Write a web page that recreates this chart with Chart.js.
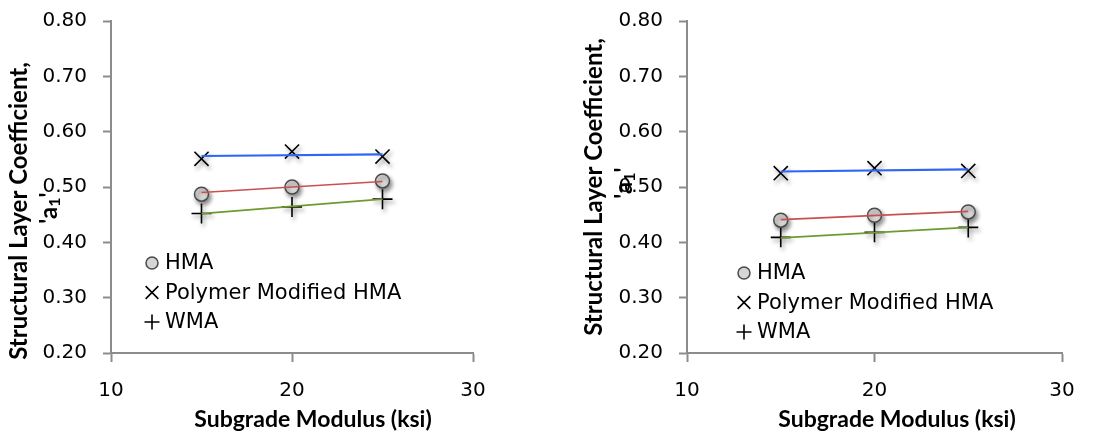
<!DOCTYPE html>
<html>
<head>
<meta charset="utf-8">
<script src="https://cdn.jsdelivr.net/npm/chart.js@4.4.1/dist/chart.umd.min.js"></script>
<style>
  html, body { margin: 0; padding: 0; background: #fff; }
  .panel { position: absolute; top: 0; height: 437px; }
  #panelIzq { left: 0; width: 560px; }
  #panelDer { left: 560px; width: 549px; }
</style>
</head>
<body>
<div class="panel" id="panelIzq"><canvas id="chartIzq" width="560" height="437"></canvas></div>
<div class="panel" id="panelDer"><canvas id="chartDer" width="549" height="437"></canvas></div>
<script>
const modulus = [15, 20, 25];
const seriesNames = ["HMA", "Polymer Modified HMA", "WMA"];

const leftHMA = [0.487, 0.500, 0.511];
const leftPolymer = [0.551, 0.564, 0.555];
const leftWMA = [0.452, 0.464, 0.478];

const rightHMA = [0.440, 0.449, 0.455];
const rightPolymer = [0.525, 0.534, 0.529];
const rightWMA = [0.409, 0.418, 0.427];

// trendline end points (x = 15 and x = 25)
const trendX = [15, 25];
const leftTrendHMA = [0.490, 0.510];
const leftTrendPolymer = [0.556, 0.559];
const leftTrendWMA = [0.452, 0.478];
const rightTrendHMA = [0.441, 0.456];
const rightTrendPolymer = [0.528, 0.532];
const rightTrendWMA = [0.408, 0.427];

const xTickValues = [10, 20, 30];
const yTickValues = [0.20, 0.30, 0.40, 0.50, 0.60, 0.70, 0.80];

const xTitle = "Subgrade Modulus (ksi)";
const yTitle = "Structural Layer Coefficient,";

const gris = "#8c8c8c";
const fuenteTicks = { family: "DejaVu Sans", size: 20 };

function puntos(xs, ys) {
  return xs.map((x, i) => ({ x: x, y: ys[i] }));
}

const estilosMarcador = [
  { pointStyle: "circle", pointRadius: 7, pointBackgroundColor: "#d6d6d6", pointBorderColor: "#4a4a4a", pointBorderWidth: 1.5 },
  { pointStyle: "crossRot", pointRadius: 10, pointBackgroundColor: "#000", pointBorderColor: "#000", pointBorderWidth: 1.6 },
  { pointStyle: "cross", pointRadius: 10, pointBackgroundColor: "#000", pointBorderColor: "#000", pointBorderWidth: 1.6 }
];
const radiosLeyenda = [6, 9, 7.5];
const coloresTendencia = ["#c9504f", "#2f66f5", "#6f9a30"];
const anchosTendencia = [1.6, 2.2, 1.8];

function armarDatasets(series, tendencias) {
  const ds = [];
  tendencias.forEach((t, i) => {
    ds.push({
      type: "line",
      data: puntos(trendX, t),
      borderColor: coloresTendencia[i],
      borderWidth: anchosTendencia[i],
      pointRadius: 0,
      fill: false,
      order: 0
    });
  });
  series.forEach((s, i) => {
    ds.push(Object.assign({
      type: "scatter",
      label: seriesNames[i],
      data: puntos(modulus, s),
      showLine: false,
      sombra: true,
      radioLeyenda: radiosLeyenda[i],
      order: 1
    }, estilosMarcador[i]));
  });
  return ds;
}

const sombraPlugin = {
  id: "sombra",
  beforeDatasetDraw(chart, args) {
    if (!chart.data.datasets[args.index].sombra) return;
    const ctx = chart.ctx;
    ctx.save();
    ctx.shadowColor = "rgba(0,0,0,0.45)";
    ctx.shadowBlur = 4;
    ctx.shadowOffsetX = 2;
    ctx.shadowOffsetY = 3;
  },
  afterDatasetDraw(chart, args) {
    if (!chart.data.datasets[args.index].sombra) return;
    chart.ctx.restore();
  }
};

const textosPlugin = {
  id: "textos",
  afterDraw(chart, args, opts) {
    const ctx = chart.ctx;
    const area = chart.chartArea;

    // legend
    ctx.save();
    chart.data.datasets.filter(d => d.label).forEach((d, i) => {
      const y = area.top + opts.legendTop + i * 29.5;
      const x = area.left + opts.legendLeft;
      ctx.fillStyle = d.pointBackgroundColor;
      ctx.strokeStyle = d.pointBorderColor;
      ctx.lineWidth = d.pointBorderWidth;
      Chart.helpers.drawPoint(ctx, {
        pointStyle: d.pointStyle,
        radius: d.radioLeyenda,
        borderWidth: d.pointBorderWidth,
        rotation: 0
      }, x, y);
      ctx.fillStyle = "#000";
      ctx.font = "21px 'DejaVu Sans'";
      ctx.textAlign = "left";
      ctx.textBaseline = "middle";
      ctx.fillText(d.label, x + 13, y + 1);
    });
    ctx.restore();

    // axis titles
    ctx.save();
    ctx.fillStyle = "#000";
    ctx.textAlign = "center";
    ctx.textBaseline = "middle";
    ctx.font = "bold 23px Lato";
    ctx.fillText(xTitle, opts.xTitleX, opts.xTitleY);

    ctx.font = "bold 24px Lato";
    ctx.translate(opts.yTitleX, opts.yTitleY);
    ctx.rotate(-Math.PI / 2);
    ctx.fillText(yTitle, 0, 0);
    ctx.restore();

    // second line: 'a1' with subscript
    ctx.save();
    ctx.fillStyle = "#000";
    ctx.translate(opts.yTitle2X, opts.yTitle2Y);
    ctx.rotate(-Math.PI / 2);
    ctx.textBaseline = "middle";
    ctx.textAlign = "left";
    const grande = "bold 24px Lato";
    const chica = "bold 16px Lato";
    ctx.font = grande;
    const w1 = ctx.measureText("'a").width;
    const w3 = ctx.measureText("'").width;
    ctx.font = chica;
    const w2 = ctx.measureText("1").width;
    const x0 = -(w1 + w2 + w3) / 2;
    ctx.font = grande;
    ctx.fillText("'a", x0, 0);
    ctx.font = chica;
    ctx.fillText("1", x0 + w1, 6);
    ctx.font = grande;
    ctx.fillText("'", x0 + w1 + w2, 0);
    ctx.restore();
  }
};

function graficarPanel(canvas, series, tendencias, anchoEjeY, padDerecho, textos) {
  return new Chart(canvas, {
    data: { datasets: armarDatasets(series, tendencias) },
    plugins: [sombraPlugin, textosPlugin],
    options: {
      responsive: false,
      animation: false,
      layout: { autoPadding: false, padding: { top: 21, right: padDerecho, left: 0, bottom: 0 } },
      plugins: {
        legend: { display: false },
        tooltip: { enabled: false },
        textos: textos
      },
      scales: {
        x: {
          type: "linear",
          min: xTickValues[0],
          max: xTickValues[xTickValues.length - 1],
          afterBuildTicks: s => { s.ticks = xTickValues.map(v => ({ value: v })); },
          ticks: { font: fuenteTicks, color: "#000", padding: 17, maxRotation: 0 },
          grid: { drawOnChartArea: false, tickLength: 9, tickColor: gris, tickWidth: 2 },
          border: { color: gris, width: 2 },
          afterFit: s => { s.height = 84; s.paddingLeft = 0; s.paddingRight = 0; }
        },
        y: {
          type: "linear",
          min: yTickValues[0],
          max: yTickValues[yTickValues.length - 1],
          afterBuildTicks: s => { s.ticks = yTickValues.map(v => ({ value: v })); },
          ticks: { font: fuenteTicks, color: "#000", padding: 16, callback: v => v.toFixed(2) },
          grid: { drawOnChartArea: false, tickLength: 8, tickColor: gris, tickWidth: 2 },
          border: { color: gris, width: 2 },
          afterFit: s => { s.width = anchoEjeY; s.paddingTop = 0; s.paddingBottom = 0; }
        }
      }
    }
  });
}

document.addEventListener("DOMContentLoaded", () => {
  graficarPanel(document.getElementById("chartIzq"),
    [leftHMA, leftPolymer, leftWMA],
    [leftTrendHMA, leftTrendPolymer, leftTrendWMA],
    111, 87,
    { legendLeft: 41, legendTop: 242, xTitleX: 313, xTitleY: 420, yTitleX: 19, yTitleY: 211, yTitle2X: 49, yTitle2Y: 208 });

  graficarPanel(document.getElementById("chartDer"),
    [rightHMA, rightPolymer, rightWMA],
    [rightTrendHMA, rightTrendPolymer, rightTrendWMA],
    127, 47,
    { legendLeft: 57, legendTop: 252, xTitleX: 337, xTitleY: 420, yTitleX: 34, yTitleY: 187, yTitle2X: 64, yTitle2Y: 183 });
});
</script>
</body>
</html>
